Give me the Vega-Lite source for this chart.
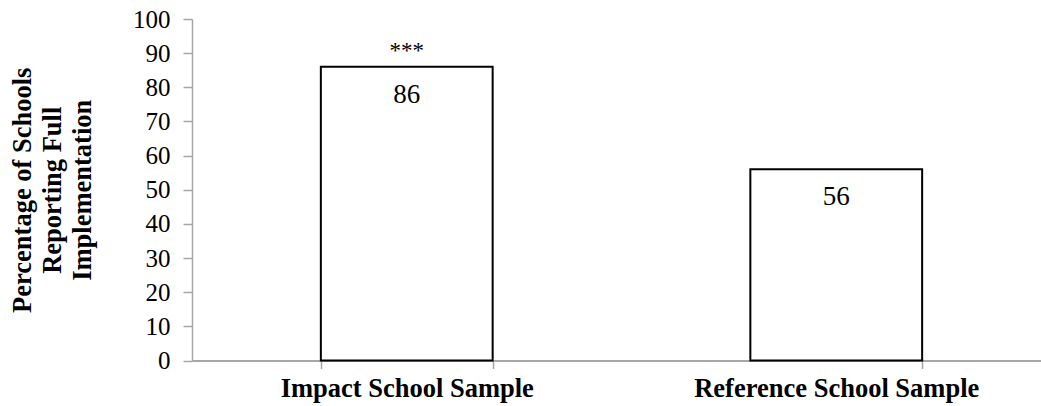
{
  "$schema": "https://vega.github.io/schema/vega-lite/v6.json",
  "autosize": "none",
  "width": 859,
  "height": 341.5,
  "padding": {"left": 192, "top": 19, "right": 0, "bottom": 45.5},
  "config": {
    "view": {"stroke": null},
    "font": "Liberation Serif, Times New Roman, serif",
    "text": {"font": "Liberation Serif, Times New Roman, serif"}
  },
  "data": {
    "values": [
      {"sample": "Impact School Sample", "pct": 86, "sig": "***"},
      {"sample": "Reference School Sample", "pct": 56, "sig": ""}
    ]
  },
  "encoding": {
    "x": {
      "field": "sample",
      "type": "nominal",
      "sort": null,
      "scale": {"paddingInner": 0.6, "paddingOuter": 0.3},
      "axis": {
        "title": null,
        "labelAngle": 0,
        "labelLimit": 0,
        "labelFont": "Liberation Serif, Times New Roman, serif",
        "labelFontWeight": "bold",
        "labelFontSize": 26.5,
        "labelColor": "black",
        "labelPadding": 7,
        "tickBand": "extent",
        "tickSize": 8,
        "tickColor": "#a6a6a6",
        "tickWidth": 1.5,
        "domainColor": "#a6a6a6",
        "domainWidth": 2
      }
    },
    "y": {
      "field": "pct",
      "type": "quantitative",
      "scale": {"domain": [0, 100], "nice": false},
      "axis": {
        "values": [0, 10, 20, 30, 40, 50, 60, 70, 80, 90, 100],
        "grid": false,
        "title": ["Percentage of Schools", "Reporting Full", "Implementation"],
        "titleFont": "Liberation Serif, Times New Roman, serif",
        "titleFontWeight": "bold",
        "titleFontSize": 26.5,
        "titleColor": "black",
        "titleLineHeight": 30,
        "titlePadding": 36,
        "labelFont": "Liberation Serif, Times New Roman, serif",
        "labelFontSize": 25,
        "labelColor": "black",
        "labelPadding": 13,
        "tickSize": 9,
        "tickColor": "#a6a6a6",
        "tickWidth": 1.5,
        "domainColor": "#a6a6a6",
        "domainWidth": 1.5
      }
    }
  },
  "layer": [
    {
      "mark": {"type": "bar", "fill": "white", "stroke": "black", "strokeWidth": 2}
    },
    {
      "mark": {"type": "text", "fontSize": 27, "font": "Liberation Serif, Times New Roman, serif", "baseline": "middle", "dy": 28, "color": "black"},
      "encoding": {"text": {"field": "pct", "type": "quantitative"}}
    },
    {
      "mark": {"type": "text", "fontSize": 23, "font": "Liberation Serif, Times New Roman, serif", "baseline": "middle", "dy": -16, "color": "black"},
      "encoding": {"text": {"field": "sig", "type": "nominal"}}
    }
  ]
}
